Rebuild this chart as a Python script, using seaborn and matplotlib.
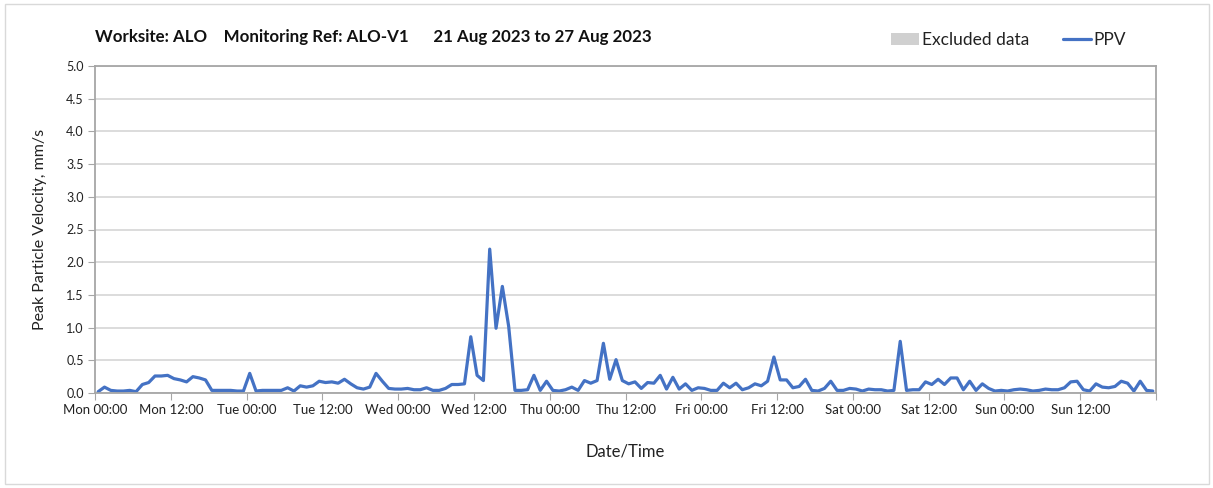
import numpy as np
import pandas as pd
import matplotlib
matplotlib.use("Agg")
import matplotlib.pyplot as plt
import matplotlib.dates as mdates
from matplotlib.patches import Rectangle, Patch
from matplotlib.lines import Line2D
import seaborn as sns

# Дані: погодинні значення PPV, 21-27 серпня 2023
start = "2023-08-21 00:30"
ppv = [
    0.02, 0.09, 0.04, 0.03, 0.03, 0.04, 0.02, 0.13, 0.16, 0.26, 0.26, 0.27,
    0.22, 0.20, 0.17, 0.25, 0.23, 0.20, 0.04, 0.04, 0.04, 0.04, 0.03, 0.03,
    0.30, 0.03, 0.04, 0.04, 0.04, 0.04, 0.08, 0.03, 0.11, 0.09, 0.11, 0.18,
    0.16, 0.17, 0.15, 0.21, 0.14, 0.08, 0.06, 0.09, 0.30, 0.18, 0.07, 0.06,
    0.06, 0.07, 0.05, 0.05, 0.08, 0.04, 0.04, 0.07, 0.13, 0.13, 0.14, 0.86,
    0.27, 0.19, 2.20, 0.99, 1.63, 1.02, 0.04, 0.04, 0.05, 0.27, 0.04, 0.18,
    0.04, 0.03, 0.05, 0.09, 0.04, 0.19, 0.15, 0.19, 0.76, 0.21, 0.51, 0.19,
    0.14, 0.17, 0.07, 0.16, 0.15, 0.27, 0.06, 0.24, 0.06, 0.14, 0.04, 0.08,
    0.07, 0.04, 0.04, 0.15, 0.08, 0.15, 0.05, 0.08, 0.14, 0.11, 0.18, 0.55,
    0.20, 0.20, 0.08, 0.10, 0.21, 0.04, 0.03, 0.07, 0.18, 0.04, 0.04, 0.07,
    0.06, 0.03, 0.06, 0.05, 0.05, 0.03, 0.04, 0.79, 0.04, 0.05, 0.05, 0.17,
    0.13, 0.21, 0.13, 0.23, 0.23, 0.05, 0.18, 0.04, 0.14, 0.07, 0.03, 0.04,
    0.03, 0.05, 0.06, 0.05, 0.03, 0.04, 0.06, 0.05, 0.05, 0.08, 0.17, 0.18,
    0.05, 0.03, 0.14, 0.09, 0.08, 0.10, 0.18, 0.15, 0.03, 0.18, 0.04, 0.03,
]
times = pd.date_range(start, periods=len(ppv), freq="h")
df = pd.DataFrame({"time": times, "ppv": ppv})

title = "Worksite: ALO    Monitoring Ref: ALO-V1      21 Aug 2023 to 27 Aug 2023"
line_color = "#4472C4"
grid_color = "#d9d9d9"

sns.set_style("white")
plt.rcParams["font.family"] = ["Lato", "DejaVu Sans"]

fig = plt.figure(figsize=(12.13, 4.88), dpi=100)
ax = fig.add_axes([95 / 1213, 1 - 393 / 488, (1156 - 95) / 1213, (393 - 66) / 488])

sns.lineplot(data=df, x="time", y="ppv", ax=ax, color=line_color, linewidth=2.3)

ax.set_xlim(pd.Timestamp("2023-08-21 00:00"), pd.Timestamp("2023-08-28 00:00"))
ax.set_ylim(0, 5)
ax.set_yticks(np.arange(0, 5.01, 0.5))
ax.yaxis.set_major_formatter(matplotlib.ticker.FormatStrFormatter("%.1f"))

# підписи кожні 12 год, сітка кожні 24 год
ax.xaxis.set_major_locator(mdates.HourLocator(byhour=[0, 12]))
ax.xaxis.set_major_formatter(mdates.DateFormatter("%a %H:%M"))
ax.xaxis.set_minor_locator(mdates.HourLocator(byhour=[0]))
ax.grid(False)
ax.grid(True, axis="x", which="minor", color=grid_color, linewidth=1.3)
ax.grid(True, axis="y", which="major", color=grid_color, linewidth=1.3)
ax.set_axisbelow(True)
for tick in ax.xaxis.get_major_ticks()[-1:]:
    tick.label1.set_visible(False)

ax.tick_params(axis="x", which="major", length=5, color="#a6a6a6", labelsize=9.5,
               labelcolor="#222222", pad=3, direction="out", bottom=True)
ax.tick_params(axis="x", which="minor", length=0)
ax.tick_params(axis="y", length=5, color="#a6a6a6", labelsize=9, labelcolor="#222222",
               pad=3, direction="out", left=True)
for side in ["left", "right", "top", "bottom"]:
    ax.spines[side].set_visible(True)
    ax.spines[side].set_color("#a6a6a6")
    ax.spines[side].set_linewidth(1.3)

ax.set_xlabel("Date/Time", fontsize=12, color="#222222", labelpad=20)
ax.set_ylabel("Peak Particle Velocity, mm/s", fontsize=11.5, color="#222222", labelpad=14)

fig.text(95 / 1213, 1 - 37 / 488, title, fontsize=12.2, fontweight="bold",
         ha="left", va="center", color="#111111")

handles = [Patch(facecolor="#d0d0d0", edgecolor="none", label="Excluded data"),
           Line2D([0], [0], color=line_color, linewidth=2.3, label="PPV")]
fig.legend(handles=handles, loc="center right", bbox_to_anchor=(1142 / 1213, 1 - 40 / 488),
           ncol=2, frameon=False, fontsize=12.5, handlelength=1.6, handletextpad=0.15,
           columnspacing=2.0, labelcolor="#222222")

fig.patches.append(Rectangle((5 / 1213, 4 / 488), 1204 / 1213, 480 / 488,
                             transform=fig.transFigure, fill=False,
                             edgecolor="#d9d9d9", linewidth=1.0))

fig.savefig("out.png", dpi=100)
